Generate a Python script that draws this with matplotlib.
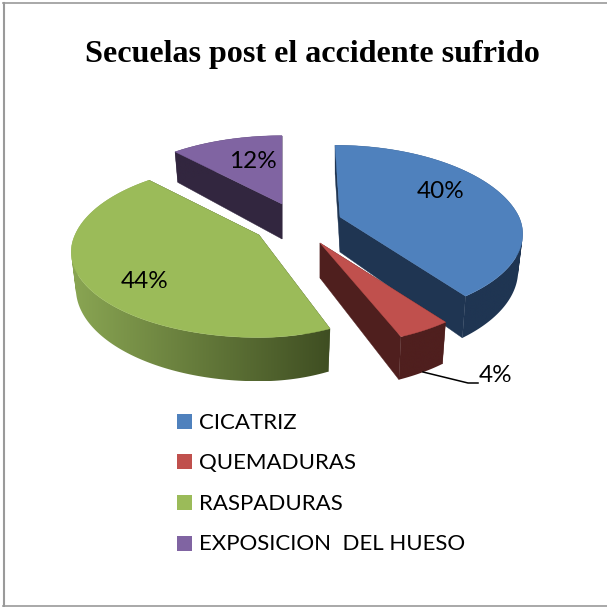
import numpy as np
import matplotlib
matplotlib.use("Agg")
import matplotlib.pyplot as plt
from matplotlib.patches import Polygon, Rectangle, PathPatch
from matplotlib.path import Path
from matplotlib.colors import to_rgb

title = "Secuelas post el accidente sufrido"
categories = ["CICATRIZ", "QUEMADURAS", "RASPADURAS", "EXPOSICION  DEL HUESO"]
values = [40, 4, 44, 12]
pct_labels = ["40%", "4%", "44%", "12%"]

top_colors = ["#4f81bd", "#c0504d", "#9bbb59", "#8064a2"]
wall_colors = ["#1f3552", "#4f1f1e", "#3f4e22", "#32263f"]
rim_left = ["#1f3552", "#4f1f1e", "#8aa653", "#32263f"]
rim_right = ["#1f3552", "#4f1f1e", "#3f4e22", "#32263f"]

apex = [(340, 217), (320, 243), (259, 235), (282, 204)]
label_pos = [(441, 192), (496, 376), (145, 281), (253, 162)]
A_right = [179, 179, 157, 179]
A_left = [179, 179, 184, 179]
far_skew = [5, 0, 0, 0]
far_stretch = [1.05, 1.0, 1.05, 1.0]
B, K, H, SHRINK = 82, 0.2, 35, 0.975


def project(theta, i, depth=0.0):
    cx, cy = apex[i]
    u, v = np.sin(theta), -np.cos(theta)
    d = 1 - K * v
    a = np.where(u > 0, A_right[i], A_left[i])
    far = v < 0
    x = a * u / d + np.where(far, far_skew[i] * v, 0.0)
    if depth:
        x = x * SHRINK
    y = cy + B * v / d * np.where(far, far_stretch[i], 1.0) + depth / d
    return cx + x, y


def quad_union(xt, yt, xb, yb):
    verts, codes = [], []
    for j in range(len(xt) - 1):
        q = [(xt[j], yt[j]), (xt[j + 1], yt[j + 1]), (xb[j + 1], yb[j + 1]), (xb[j], yb[j])]
        area = sum(q[k][0] * q[(k + 1) % 4][1] - q[(k + 1) % 4][0] * q[k][1] for k in range(4))
        if area < 0:
            q = q[::-1]
        verts += q + [q[0]]
        codes += [Path.MOVETO, Path.LINETO, Path.LINETO, Path.LINETO, Path.CLOSEPOLY]
    return Path(verts, codes)


fig = plt.figure(figsize=(6.07, 6.07), dpi=100)
ax = fig.add_axes([0, 0, 1, 1])
ax.axis("off")

ax.plot([3.5, 3.5], [607, 3], color="#9a9a9a", lw=1.5, zorder=1)
ax.plot([3, 607], [3, 3], color="#9a9a9a", lw=1.2, zorder=1)
ax.plot([3, 607], [606, 606], color="#9a9a9a", lw=1.2, zorder=1)

edges = np.cumsum([0] + values) / sum(values) * 2 * np.pi
order = [3, 0, 2, 1]
z = 2
for i in order:
    cx, cy = apex[i]
    th = np.linspace(edges[i], edges[i + 1], 160)
    xt, yt = project(th, i)
    xb, yb = project(th, i, H)
    # radial walls
    for end in (0, -1):
        ax.add_patch(Polygon([(cx, cy), (xt[end], yt[end]), (xb[end], yb[end]), (cx, cy + H)],
                             fc=wall_colors[i], ec=wall_colors[i], lw=0.3, zorder=z))
    # outer rim: horizontal gradient clipped to the swept rim outline
    cl, cr = np.array(to_rgb(rim_left[i])), np.array(to_rgb(rim_right[i]))
    ramp = np.linspace(0, 1, 256)[None, :, None]
    grad = cl[None, None, :] + (cr - cl)[None, None, :] * ramp
    x0, x1 = min(xt.min(), xb.min()), max(xt.max(), xb.max())
    rim = PathPatch(quad_union(xt, yt, xb, yb), fc="none", ec="none", transform=ax.transData)
    ax.add_patch(rim)
    im = ax.imshow(grad, extent=(x0, x1, max(yb.max(), yt.max()), min(yt.min(), yb.min())),
                   aspect="auto", zorder=z, interpolation="bilinear")
    im.set_clip_path(rim)
    ax.add_patch(Polygon(np.column_stack([np.r_[cx, xt], np.r_[cy, yt]]),
                         fc=top_colors[i], ec=top_colors[i], lw=0.3, zorder=z + 0.5))
    z += 1

ax.set_xlim(0, 607)
ax.set_ylim(607, 0)

ax.plot([423, 468, 478], [372, 383, 383], color="black", lw=1.1, zorder=z)

for (x, y), s in zip(label_pos, pct_labels):
    ax.text(x, y, s, family="Lato", fontsize=17.5, color="black", ha="center", va="center", zorder=z)

ax.text(312, 54.5, title, family="Liberation Serif", weight="bold", fontsize=23.1,
        ha="center", va="center", color="black", zorder=z)

legend_y = [421.5, 461.5, 502, 543]
for y, c, s in zip(legend_y, top_colors, categories):
    ax.add_patch(Rectangle((177, y - 7.5), 15, 15, fc=c, ec="none", zorder=z))
    ax.text(199, y + 1.5, s, family="Lato", fontsize=16, va="center", ha="left", color="black", zorder=z)

fig.savefig("out.png", dpi=100)
